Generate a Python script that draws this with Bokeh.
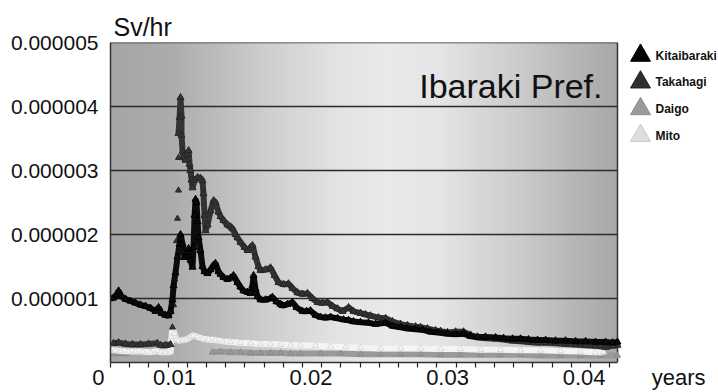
import numpy as np
from bokeh.plotting import figure
from bokeh.models import Range1d, FixedTicker, PrintfTickFormatter, Label
from bokeh.core.properties import value
from bokeh.embed import file_html
from bokeh.resources import INLINE

nan = float("nan")

# ---------------- data (time in years, dose rate in microSv/hr) ----------------
kita_t = [0.00531, 0.00553, 0.00575, 0.00590, 0.00612, 0.00641, 0.00678, 0.00714,
          0.00751, 0.00788, 0.00824, 0.00861, 0.00883, 0.00905, 0.00934, 0.00956,
          0.00971, 0.00985, 0.00993, 0.01007, 0.01022, 0.01037, 0.01044, 0.01059,
          0.01073, 0.01088, 0.01103, 0.01117, 0.01132, 0.01139, 0.01147, 0.01154,
          0.01161, 0.01169, 0.01176, 0.01190, 0.01205, 0.01220, 0.01242, 0.01264,
          0.01286, 0.01300, 0.01322, 0.01337, 0.01359, 0.01388, 0.01410, 0.01432,
          0.01461, 0.01483, 0.01505, 0.01535, 0.01557, 0.01571, 0.01579, 0.01593,
          0.01608, 0.01630, 0.01666, 0.01703, 0.01718, 0.01747, 0.01777, 0.01791,
          0.01828, 0.01864, 0.01894, 0.01938, 0.01967, 0.01996, 0.02033, 0.02070,
          0.02106, 0.02143, 0.02194, 0.02238, 0.02275, 0.02311, 0.02363, 0.02421,
          0.02473, 0.02546, 0.02597, 0.02656, 0.02707, 0.02766, 0.02817, 0.02875,
          0.02927, 0.03000, 0.03059, 0.03117, 0.03169, 0.03220, 0.03278, 0.03352,
          0.03410, 0.03476, 0.03535, 0.03593, 0.03659, 0.03718, 0.03791, 0.03864,
          0.03938, 0.04011, 0.04084, 0.04158, 0.04209, 0.04245]
kita_v = [1.00, 1.01, 1.05, 1.12, 1.03, 0.99, 0.96, 0.93,
          0.90, 0.88, 0.85, 0.80, 0.86, 0.77, 0.74, 0.73,
          0.80, 0.98, 1.20, 1.40, 1.65, 1.85, 2.00, 1.85,
          1.64, 1.72, 1.78, 1.60, 1.49, 1.80, 2.30, 2.55,
          2.50, 2.20, 1.95, 1.75, 1.50, 1.42, 1.39, 1.45,
          1.52, 1.55, 1.42, 1.38, 1.33, 1.30, 1.32, 1.36,
          1.25, 1.18, 1.12, 1.10, 1.08, 1.20, 1.36, 1.15,
          1.03, 0.98, 0.98, 1.00, 1.02, 0.95, 0.91, 0.89,
          0.91, 0.94, 0.86, 0.80, 0.80, 0.81, 0.74, 0.71,
          0.70, 0.71, 0.69, 0.67, 0.66, 0.64, 0.63, 0.62,
          0.60, 0.62, 0.57, 0.55, 0.53, 0.52, 0.51, 0.48,
          0.47, 0.45, 0.44, 0.45, 0.41, 0.40, 0.40, 0.39,
          0.38, 0.37, 0.37, 0.36, 0.35, 0.35, 0.34, 0.34,
          0.33, 0.33, 0.32, 0.32, 0.31, 0.32]

taka_t = [0.00553, 0.00590, 0.00641, 0.00692, 0.00751, 0.00810, 0.00875, nan,
          0.00897, 0.00934, 0.00971, nan,
          0.01029, 0.01037, 0.01044, 0.01051, 0.01051, 0.01059, 0.01066, 0.01081,
          0.01095, 0.01103, 0.01110, 0.01117, 0.01125, 0.01132, 0.01147, 0.01169,
          0.01190, 0.01205, 0.01212, 0.01220, 0.01227, 0.01242, 0.01264, 0.01286,
          0.01300, 0.01322, 0.01337, 0.01359, 0.01388, 0.01410, 0.01425, 0.01447,
          0.01461, 0.01483, 0.01513, 0.01535, 0.01557, 0.01571, 0.01593, 0.01615,
          0.01630, 0.01666, 0.01703, 0.01733, 0.01762, 0.01799, 0.01835, 0.01864,
          0.01901, 0.01938, 0.01974, 0.02011, 0.02048, 0.02084, 0.02121, 0.02158,
          0.02194, 0.02231, 0.02275, 0.02311, 0.02363, 0.02399, 0.02436, 0.02495,
          0.02546, 0.02597, 0.02656, 0.02707, 0.02766, 0.02802, 0.02853, 0.02912,
          0.02949, 0.03000, 0.03059, 0.03117, 0.03169, 0.03220, 0.03278, 0.03352,
          0.03410, 0.03476, 0.03535, 0.03593, 0.03659, 0.03718, 0.03791, 0.03864,
          0.03938, 0.04011, 0.04084, 0.04158, 0.04209, 0.04245]
taka_v = [0.30, 0.31, 0.29, 0.28, 0.28, 0.29, 0.30, nan,
          0.27, 0.27, 0.28, nan,
          3.58, 3.83, 4.14, 3.85, 3.55, 3.30, 3.20, 3.16,
          3.25, 3.31, 3.10, 3.00, 2.85, 2.73, 2.85, 2.89,
          2.88, 2.84, 2.64, 2.30, 2.06, 2.15, 2.37, 2.53,
          2.50, 2.35, 2.28, 2.22, 2.15, 2.12, 2.09, 2.00,
          1.95, 1.88, 1.80, 1.75, 1.80, 1.83, 1.65, 1.50,
          1.44, 1.45, 1.48, 1.36, 1.25, 1.22, 1.23, 1.16,
          1.09, 1.07, 1.08, 1.00, 0.94, 0.93, 0.94, 0.88,
          0.84, 0.80, 0.86, 0.80, 0.77, 0.75, 0.73, 0.70,
          0.69, 0.64, 0.60, 0.58, 0.56, 0.55, 0.53, 0.50,
          0.49, 0.47, 0.48, 0.48, 0.43, 0.39, 0.38, 0.37,
          0.36, 0.34, 0.33, 0.32, 0.31, 0.31, 0.30, 0.29,
          0.28, 0.27, 0.26, 0.24, 0.26, 0.27]
# sparse readings during the sharp rise (shown as isolated markers)
taka_rise_t = [0.00985, 0.00993, 0.01000, 0.01015, 0.01022, 0.01029, 0.01029]
taka_rise_v = [0.55, 0.90, 1.30, 1.90, 2.25, 2.69, 3.20]

daigo_t = [0.00546, 0.00575, 0.00604, 0.00634, 0.00656, nan,
           0.01278, 0.01337, 0.01410, 0.01483, 0.01557, 0.01630, 0.01703, 0.01777,
           0.01850, 0.01923, 0.02070, 0.02216, 0.02363, 0.02509, 0.02656, 0.02802,
           0.02949, 0.03095, 0.03242, 0.03388, 0.03535, 0.03681, 0.03828, 0.03974,
           0.04121, 0.04245]
daigo_v = [0.14, 0.14, 0.14, 0.14, 0.14, nan,
           0.16, 0.17, 0.16, 0.16, 0.15, 0.15, 0.15, 0.15,
           0.14, 0.14, 0.14, 0.14, 0.13, 0.13, 0.13, 0.13,
           0.12, 0.12, 0.12, 0.12, 0.12, 0.11, 0.11, 0.11,
           0.11, 0.11]

mito_t = [0.00531, 0.00568, 0.00604, 0.00663, 0.00714, 0.00766, 0.00824, 0.00875,
          0.00897, 0.00934, 0.00971, 0.00978, 0.00985, 0.01000, 0.01015, 0.01029,
          0.01059, 0.01088, 0.01117, 0.01139, 0.01169, 0.01205, 0.01249, 0.01300,
          0.01352, 0.01410, 0.01483, 0.01557, 0.01630, 0.01703, 0.01777, 0.01850,
          0.01923, 0.02033, 0.02143, 0.02253, 0.02363, 0.02509, 0.02656, 0.02802,
          0.02949, 0.03095, 0.03242, 0.03388, 0.03535, 0.03681, 0.03828, 0.03974,
          0.04084, 0.04143]
mito_v = [0.19, 0.19, 0.18, 0.17, 0.17, 0.17, 0.16, 0.18,
          0.16, 0.16, 0.16, 0.40, 0.53, 0.45, 0.36, 0.34,
          0.35, 0.36, 0.40, 0.42, 0.40, 0.37, 0.36, 0.35,
          0.33, 0.32, 0.31, 0.30, 0.29, 0.29, 0.28, 0.27,
          0.27, 0.26, 0.25, 0.24, 0.23, 0.22, 0.22, 0.22,
          0.21, 0.21, 0.20, 0.20, 0.19, 0.19, 0.18, 0.17,
          0.16, 0.16]

series_names = ["Kitaibaraki", "Takahagi", "Daigo", "Mito"]
series_colors = ["#050505", "#2e2e2e", "#9a9a9a", "#dedede"]
series_edges = ["#000000", "#222222", "#8c8c8c", "#c8c8c8"]
y_ticks = [1e-6, 2e-6, 3e-6, 4e-6, 5e-6]
x_label_ticks = [0.01, 0.02, 0.03, 0.04]
X_START, X_END = 0.00531, 0.04245          # extent of the shaded plot box
Y_START, Y_END = 0.0, 5e-6
MINOR_STEP = 0.0014066

def sv(values):
    # microSv/hr -> Sv/hr
    return [v * 1e-6 for v in values]

FONT = "Liberation Sans"
NB = "\u00a0"

# layout (pixels): shaded box 110..617 x 42..362; frame extended to the right
# so the legend can live inside the canvas
BOX_L, BOX_R, BOX_T, BOX_B = 110, 617, 42, 362
FRAME_R = 716
px_per_x = (BOX_R - BOX_L) / (X_END - X_START)
X_VIEW_END = X_START + (FRAME_R - BOX_L) / px_per_x

def x_at(px):
    return X_START + (px - BOX_L) / px_per_x

def y_at(py):
    return Y_START + (BOX_B - py) / (BOX_B - BOX_T) * (Y_END - Y_START)

p = figure(width=718, height=392, output_backend="svg", toolbar_location=None,
           x_range=Range1d(X_START, X_VIEW_END), y_range=Range1d(Y_START, Y_END),
           min_border_left=BOX_L, min_border_right=718 - FRAME_R, min_border_top=BOX_T,
           min_border_bottom=392 - BOX_B, background_fill_color="white",
           border_fill_color="white", title="Sv/hr")
p.xgrid.visible = False
p.ygrid.visible = False
p.outline_line_color = None

p.title.text_font = FONT
p.title.text_font_size = "25px"
p.title.text_font_style = "normal"
p.title.text_color = "#111111"
p.title.align = "left"
p.title.offset = 3
p.title.standoff = 4

# gradient plot background
frac = np.linspace(0, 1, 512)
g = np.interp(frac, [0, 0.12, 0.3, 0.45, 0.55, 0.65, 0.8, 0.92, 1.0],
              [166, 172, 205, 228, 234, 229, 205, 182, 168]).astype(np.uint8)
img = np.empty((1, 512), dtype=np.uint32)
view = img.view(dtype=np.uint8).reshape((1, 512, 4))
view[..., 0] = g
view[..., 1] = g
view[..., 2] = g
view[..., 3] = 255
bg = p.image_rgba(image=[img], x=X_START, y=Y_START, dw=X_END - X_START, dh=Y_END - Y_START)
bg.level = "image"

# horizontal grid lines (including the top border) and the right border
grid = p.segment(x0=X_START, x1=X_END, y0=y_ticks, y1=y_ticks,
                 line_color="#2b2b2b", line_width=1.5)
grid.level = "underlay"
rb = p.segment(x0=X_END, x1=X_END, y0=Y_START, y1=Y_END, line_color="#333333", line_width=1.5)
rb.level = "underlay"

# y axis
p.yaxis.ticker = FixedTicker(ticks=y_ticks)
p.yaxis.formatter = PrintfTickFormatter(format="%.6f")
p.yaxis.major_tick_out = 0
p.yaxis.major_tick_in = 0
p.yaxis.minor_tick_out = 0
p.yaxis.minor_tick_in = 0
p.yaxis.major_label_standoff = 12
p.yaxis.major_label_text_font = FONT
p.yaxis.major_label_text_font_size = "21px"
p.yaxis.major_label_text_color = "#111111"
p.yaxis.axis_line_color = "#333333"
p.yaxis.axis_line_width = 1.5

# x axis
minor = list(np.arange(X_START, X_END, MINOR_STEP))
p.xaxis.bounds = (X_START, X_END)
p.xaxis.ticker = FixedTicker(ticks=[X_START] + x_label_ticks + [X_END], minor_ticks=minor)
p.xaxis.major_label_overrides = {X_START: "0" + NB * 4, X_END: NB * 20 + "years"}
p.xaxis.major_tick_out = 0
p.xaxis.major_tick_in = 0
p.xaxis.minor_tick_out = 5
p.xaxis.minor_tick_in = 0
p.xaxis.minor_tick_line_color = "#222222"
p.xaxis.minor_tick_line_width = 1.2
p.xaxis.major_label_text_font = FONT
p.xaxis.major_label_text_font_size = "22px"
p.xaxis.major_label_text_color = "#111111"
p.xaxis.major_label_standoff = -3
p.xaxis.axis_line_color = "#333333"
p.xaxis.axis_line_width = 1.5

p.add_layout(Label(x=X_END, y=Y_END, x_offset=-15, y_offset=-43, text="Ibaraki Pref.",
                   text_align="right", text_baseline="alphabetic", text_font=FONT,
                   text_font_size="34px", text_color="#111111"))

# data series (back to front)
p.line(daigo_t, sv(daigo_v), line_color="#9a9a9a", line_width=6)
p.scatter(daigo_t, sv(daigo_v), marker="triangle", size=6,
          fill_color="#9a9a9a", line_color="#8a8a8a")
p.line(mito_t, sv(mito_v), line_color="#f4f4f4", line_width=6)
p.scatter(mito_t, sv(mito_v), marker="triangle", size=6,
          fill_color="#f8f8f8", line_color="#d8d8d8")
p.line(taka_t, sv(taka_v), line_color="#333333", line_width=6)
p.scatter(taka_t, sv(taka_v), marker="triangle", size=7,
          fill_color="#333333", line_color="#262626")
p.scatter(taka_rise_t, sv(taka_rise_v), marker="triangle", size=6,
          fill_color="#333333", line_color="#262626")
p.line(kita_t, sv(kita_v), line_color="#0c0c0c", line_width=6)
p.scatter(kita_t, sv(kita_v), marker="triangle", size=7,
          fill_color="#0c0c0c", line_color="#000000")

# legend (outside the shaded box, on the right)
LEG_PX, LEG_TEXT_PX, LEG_TOP_PY, LEG_STEP = 640, 655, 55, 26.7
leg_y = [y_at(LEG_TOP_PY + i * LEG_STEP) for i in range(len(series_names))]
p.scatter(x=[x_at(LEG_PX)] * len(series_names), y=leg_y, marker="triangle", size=20,
          fill_color=series_colors, line_color=series_edges)
p.text(x=[x_at(LEG_TEXT_PX)] * len(series_names), y=leg_y, text=series_names,
       text_font=value(FONT), text_font_style="bold", text_font_size="12px",
       text_color="#111111", text_baseline="middle", text_align="left")

open("out.html", "w").write(file_html(p, INLINE))
